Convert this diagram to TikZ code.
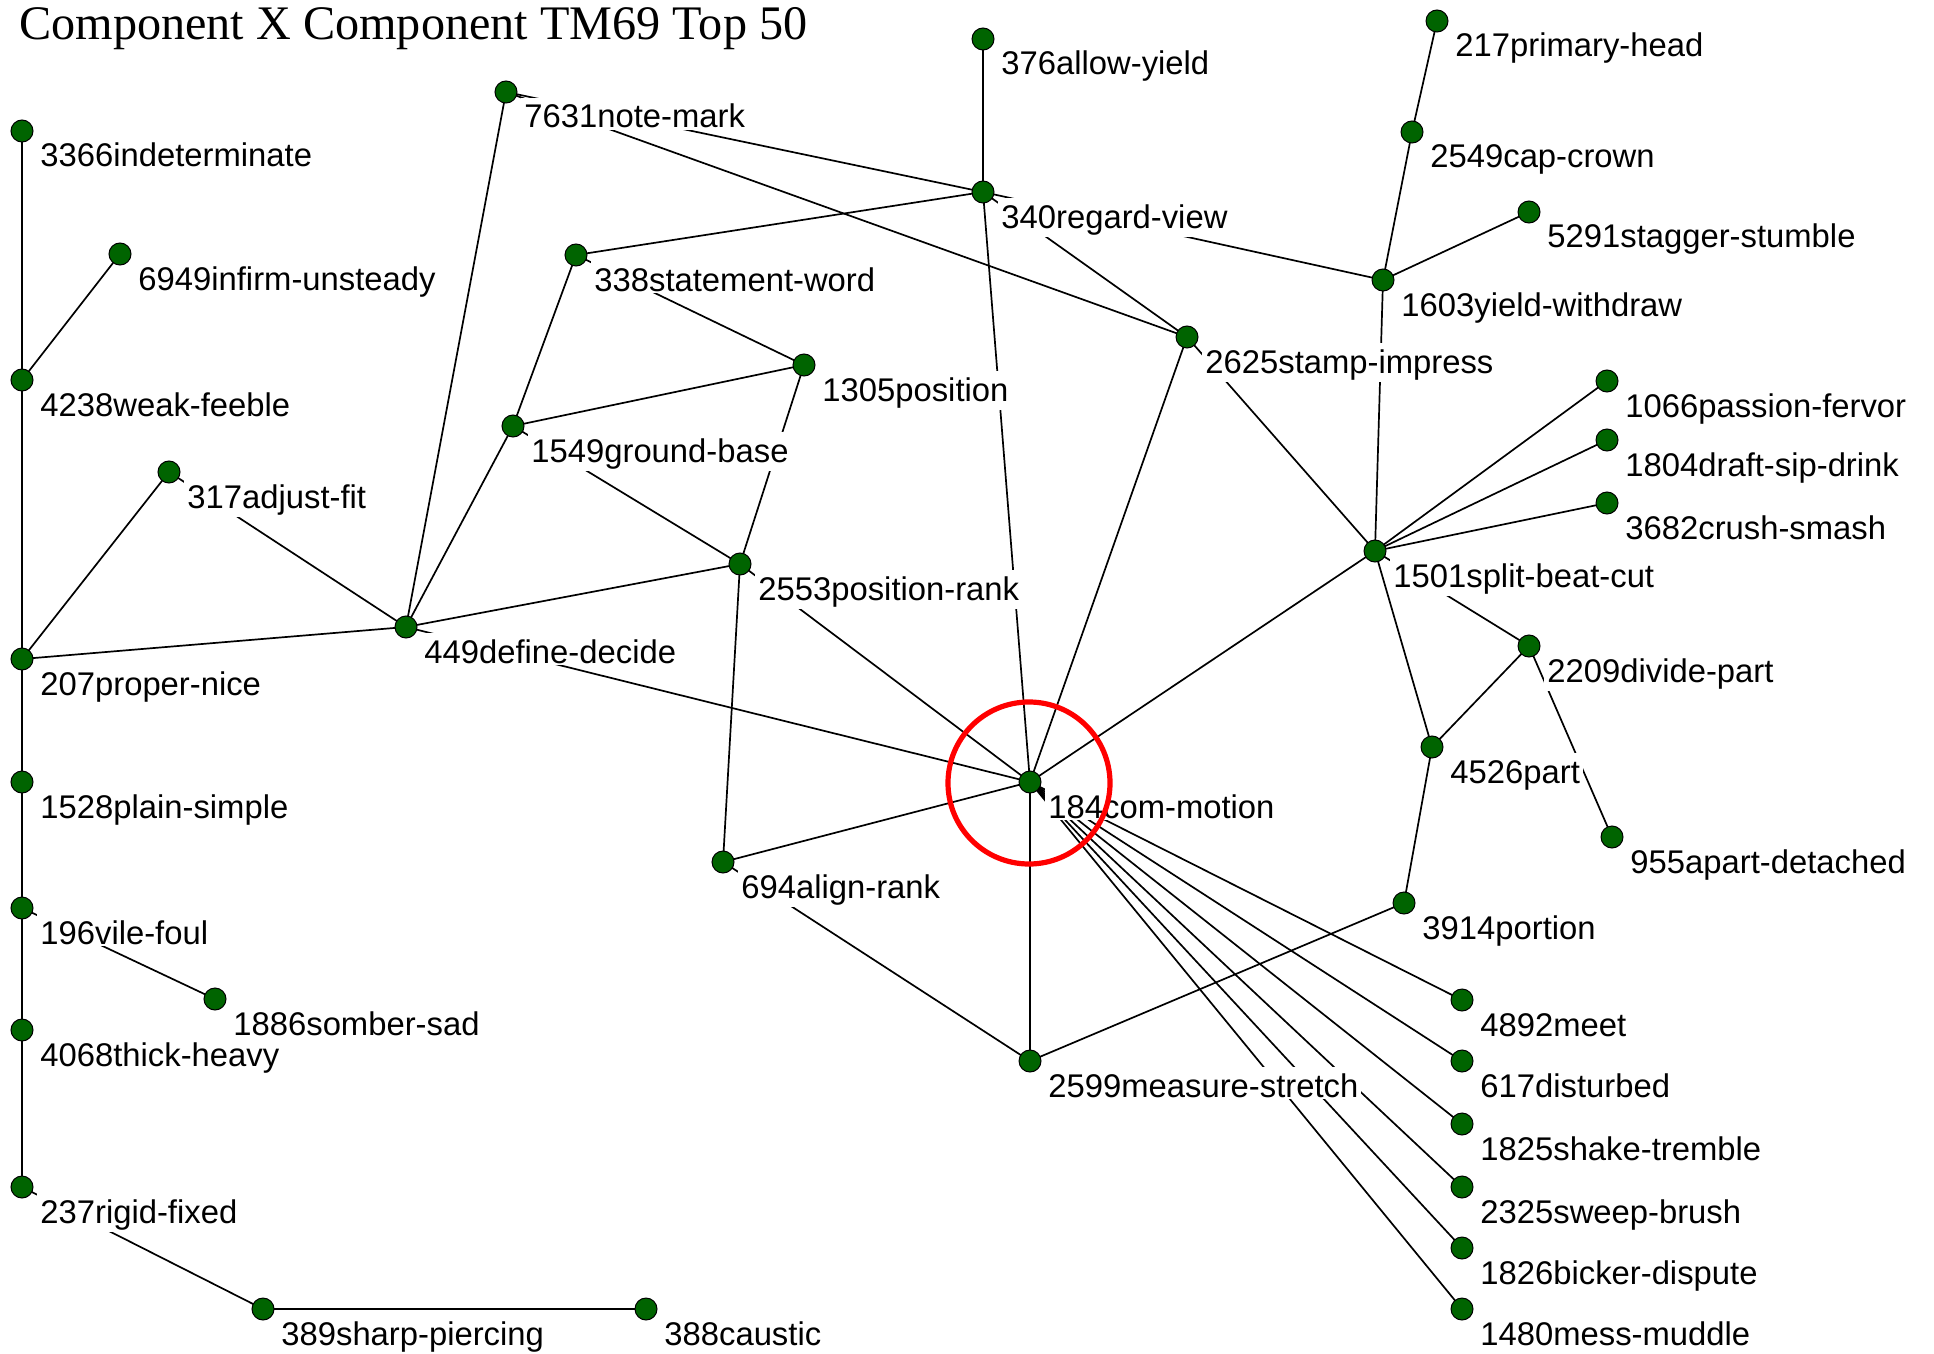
\documentclass[tikz,border=0pt]{standalone}
\usepackage{fontspec}
\setmainfont{Liberation Sans}
\newfontfamily\titlefont{Liberation Serif}
\usetikzlibrary{backgrounds,shapes.geometric}
\definecolor{dotgreen}{RGB}{0,100,0}
\tikzset{
 dot/.style={ellipse, fill=dotgreen, draw=black, line width=0.5pt, minimum width=11pt, minimum height=11pt, inner sep=0pt},
 lbl/.style={fill=white, inner xsep=1.5pt, inner ysep=1pt, text height=14pt, anchor=base west, font=\fontsize{16.4}{18}\selectfont},
 edge/.style={draw=black, line width=0.85pt},
 ring/.style={draw=red, line width=2.6pt},
}
\newcommand\gnode[4]{\coordinate (#1p) at (#2,#3); \node[lbl] (#1l) at ([shift={(15,36)}]#1p) {#4}; \node[dot] (#1) at (#1p) {};}
\begin{document}
\begin{tikzpicture}[x=0.5pt,y=-0.5pt]
\useasboundingbox (0,0) rectangle (1934,1354);
\begin{scope}[on background layer]
\fill[white] (0,0) rectangle (1934,1354);
\end{scope}
\node[anchor=base west, font=\titlefont\fontsize{24.1}{28}\selectfont, inner sep=0pt] (title) at (19,40) {Component X Component TM69 Top 50};
\gnode{n3366}{22}{131}{3366indeterminate}
\gnode{n6949}{120}{254}{6949infirm-unsteady}
\gnode{n4238}{22}{380}{4238weak-feeble}
\gnode{n317}{169}{472}{317adjust-fit}
\gnode{n207}{22}{659}{207proper-nice}
\gnode{n1528}{22}{782}{1528plain-simple}
\gnode{n196}{22}{908}{196vile-foul}
\gnode{n1886}{215}{999}{1886somber-sad}
\gnode{n4068}{22}{1030}{4068thick-heavy}
\gnode{n237}{22}{1187}{237rigid-fixed}
\gnode{n389}{263}{1309}{389sharp-piercing}
\gnode{n388}{646}{1309}{388caustic}
\gnode{n7631}{506}{92}{7631note-mark}
\gnode{n449}{406}{627}{449define-decide}
\gnode{n338}{576}{255}{338statement-word}
\gnode{n1549}{513}{426}{1549ground-base}
\gnode{n1305}{804}{365}{1305position}
\gnode{n2553}{740}{564}{2553position-rank}
\gnode{n694}{723}{862}{694align-rank}
\gnode{n376}{983}{39}{376allow-yield}
\gnode{n340}{983}{192}{340regard-view}
\gnode{n184}{1030}{782}{184com-motion}
\gnode{n2599}{1030}{1061}{2599measure-stretch}
\gnode{n2625}{1187}{337}{2625stamp-impress}
\gnode{n217}{1437}{21}{217primary-head}
\gnode{n2549}{1412}{132}{2549cap-crown}
\gnode{n5291}{1529}{212}{5291stagger-stumble}
\gnode{n1603}{1383}{280}{1603yield-withdraw}
\gnode{n1066}{1607}{381}{1066passion-fervor}
\gnode{n1804}{1607}{440}{1804draft-sip-drink}
\gnode{n3682}{1607}{503}{3682crush-smash}
\gnode{n1501}{1375}{551}{1501split-beat-cut}
\gnode{n2209}{1529}{646}{2209divide-part}
\gnode{n4526}{1432}{747}{4526part}
\gnode{n955}{1612}{837}{955apart-detached}
\gnode{n3914}{1404}{903}{3914portion}
\gnode{n4892}{1462}{1000}{4892meet}
\gnode{n617}{1462}{1061}{617disturbed}
\gnode{n1825}{1462}{1124}{1825shake-tremble}
\gnode{n2325}{1462}{1187}{2325sweep-brush}
\gnode{n1826}{1462}{1248}{1826bicker-dispute}
\gnode{n1480}{1462}{1309}{1480mess-muddle}
\begin{scope}[on background layer]
\foreach \a/\b in {n3366/n4238, n4238/n207, n207/n1528, n1528/n196, n196/n4068, n4068/n237,
  n6949/n4238, n317/n207, n317/n449, n207/n449, n196/n1886, n237/n389,
  n7631/n449, n7631/n340, n7631/n2625, n449/n1549, n449/n2553, n449/n184,
  n338/n1549, n338/n1305, n338/n340, n1549/n1305, n1549/n2553, n1305/n2553,
  n2553/n694, n2553/n184, n694/n184, n694/n2599, n376/n340, n340/n184,
  n340/n2625, n340/n1603, n2625/n184, n2625/n1501, n217/n2549, n2549/n1603,
  n5291/n1603, n1603/n1501, n1501/n1066, n1501/n1804, n1501/n3682, n1501/n184,
  n1501/n4526, n1501/n2209, n2209/n4526, n2209/n955, n4526/n3914, n3914/n2599,
  n184/n2599, n184/n4892, n184/n617, n184/n1825, n184/n2325, n184/n1826, n184/n1480}
  \draw[edge] (\a.center) -- (\b.center);
\draw[edge, line width=1.4pt] (n389.center) -- (n388.center);
\end{scope}
\draw[ring] ([shift={(-1,1)}]n184.center) circle[radius=40.5pt];
\end{tikzpicture}
\end{document}
